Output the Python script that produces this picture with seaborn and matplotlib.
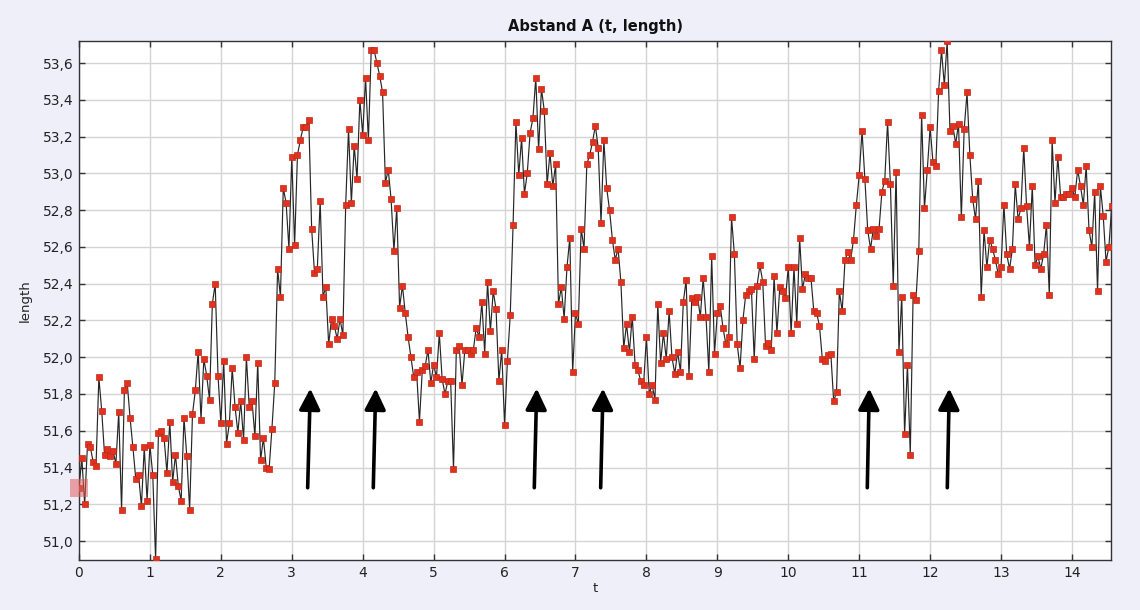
import numpy as np
import pandas as pd
import matplotlib
matplotlib.use("Agg")
import matplotlib.pyplot as plt
from matplotlib.ticker import FuncFormatter
import seaborn as sns

# ---------------- data ----------------
t_step = 0.04
length_values = [
    51.29, 51.45, 51.20, 51.53, 51.51, 51.43, 51.41, 51.89, 51.71, 51.47,
    51.50, 51.46, 51.49, 51.42, 51.70, 51.17, 51.82, 51.86, 51.67, 51.51,
    51.34, 51.36, 51.19, 51.51, 51.22, 51.52, 51.36, 50.90, 51.59,
    51.60, 51.56, 51.37, 51.65, 51.32, 51.47, 51.30, 51.22, 51.67, 51.46,
    51.17, 51.69, 51.82, 52.03, 51.66, 51.99, 51.90, 51.77, 52.29, 52.40,
    51.90, 51.64, 51.98, 51.53, 51.64, 51.94, 51.73, 51.59, 51.76, 51.55,
    52.00, 51.73,
    51.76, 51.57, 51.97, 51.44, 51.56, 51.40, 51.39, 51.61, 51.86, 52.48,
    52.33, 52.92, 52.84, 52.59, 53.09, 52.61, 53.10, 53.18, 53.25, 53.25,
    53.29, 52.70, 52.46, 52.48, 52.85, 52.33, 52.38, 52.07, 52.21, 52.17,
    52.10, 52.21,
    52.12, 52.83, 53.24, 52.84, 53.15, 52.97, 53.40, 53.21, 53.52, 53.18,
    53.67, 53.67, 53.60, 53.53, 53.44, 52.95, 53.02, 52.86, 52.58, 52.81,
    52.27, 52.39, 52.24, 52.11, 52.00, 51.89, 51.92, 51.65, 51.93, 51.95,
    52.04, 51.86,
    51.96, 51.89, 52.13, 51.88, 51.80, 51.87, 51.87, 51.39, 52.04, 52.06,
    51.85, 52.04, 52.04, 52.02, 52.04, 52.16, 52.11, 52.30, 52.02, 52.41,
    52.14, 52.36, 52.26, 51.87, 52.04, 51.63, 51.98, 52.23, 52.72, 53.28,
    52.99, 53.19,
    52.89, 53.00, 53.22, 53.30, 53.52, 53.13, 53.46, 53.34, 52.94, 53.11,
    52.93, 53.05, 52.29, 52.38, 52.21, 52.49, 52.65, 51.92, 52.24, 52.18,
    52.70, 52.59, 53.05, 53.10, 53.17, 53.26, 53.14, 52.73, 53.18, 52.92,
    52.80, 52.64,
    52.53, 52.59, 52.41, 52.05, 52.18, 52.03, 52.22, 51.96, 51.93, 51.87,
    51.85, 52.11, 51.80, 51.85, 51.77, 52.29, 51.97, 52.13, 51.99, 52.25,
    52.00, 51.91, 52.03, 51.92, 52.30, 52.42, 51.90, 52.32, 52.30, 52.33,
    52.22,
    52.43, 52.22, 51.92, 52.55, 52.02, 52.24, 52.28, 52.16, 52.07, 52.11,
    52.76, 52.56, 52.07, 51.94, 52.20, 52.34, 52.36, 52.37, 51.99, 52.39,
    52.50, 52.41, 52.06, 52.08, 52.04, 52.44, 52.13, 52.38, 52.36, 52.32,
    52.49, 52.13,
    52.49, 52.18, 52.65, 52.37, 52.45, 52.43, 52.43, 52.25, 52.24, 52.17,
    51.99, 51.98, 52.01, 52.02, 51.76, 51.81, 52.36, 52.25, 52.53, 52.57,
    52.53, 52.64, 52.83, 52.99, 53.23, 52.97, 52.69, 52.59, 52.70, 52.66,
    52.70, 52.90,
    52.96, 53.28, 52.94, 52.39, 53.01, 52.03, 52.33, 51.58, 51.96, 51.47,
    52.34, 52.31, 52.58, 53.32, 52.81, 53.02, 53.25, 53.06, 53.04, 53.45,
    53.67, 53.48, 53.72, 53.23, 53.26, 53.16, 53.27, 52.76, 53.24, 53.44,
    53.10,
    52.86, 52.75, 52.96, 52.33, 52.69, 52.49, 52.64, 52.59, 52.53, 52.45,
    52.49, 52.83, 52.56, 52.48, 52.59, 52.94, 52.75, 52.81, 53.14, 52.82,
    52.60, 52.93, 52.50, 52.55, 52.48, 52.56, 52.72, 52.34, 53.18, 52.84,
    53.09, 52.87,
    52.87, 52.89, 52.89, 52.92, 52.87, 53.02, 52.93, 52.83, 53.04, 52.69,
    52.60, 52.90, 52.36, 52.93, 52.77, 52.52, 52.60, 52.82, 52.77,
]
t_values = np.round(np.arange(len(length_values)) * t_step, 2)

x_ticks = list(range(0, 15))
y_ticks = [51.0, 51.2, 51.4, 51.6, 51.8, 52.0, 52.2, 52.4, 52.6, 52.8,
           53.0, 53.2, 53.4, 53.6]

# annotation arrows (tail t, tip t)
arrow_tail_t = [3.224, 4.149, 6.419, 7.355, 11.114, 12.242]
arrow_tip_t = [3.261, 4.183, 6.453, 7.388, 11.142, 12.270]
arrow_tail_v = 51.29
arrow_tip_v = 51.83

title_text = "Abstand A (t, length)"
x_label = "t"
y_label = "length"

# ---------------- plot ----------------
df = pd.DataFrame({"t": t_values, "length": length_values})

sns.set_theme(style="whitegrid")
plt.rcParams["font.family"] = ["DejaVu Sans"]

bg = "#EFEFFA"
fig = plt.figure(figsize=(11.4, 6.1), dpi=100, facecolor=bg)
ax = fig.add_axes([79 / 1140, 1 - 560 / 610, (1111 - 79) / 1140, (560 - 41) / 610])
ax.set_facecolor("white")

sns.lineplot(data=df, x="t", y="length", ax=ax, sort=False, estimator=None,
             color="#262626", linewidth=0.85, marker="s", markersize=3.7,
             markerfacecolor="#E0321E", markeredgecolor="#C02818",
             markeredgewidth=0.5, zorder=3)

# highlighted first point
ax.scatter(df["t"].iloc[:1], df["length"].iloc[:1], marker="s", s=170,
           color="#E06060", alpha=0.55, edgecolors="none", zorder=4,
           clip_on=False)

for ta, tb in zip(arrow_tail_t, arrow_tip_t):
    ax.annotate("", xy=(tb, arrow_tip_v), xytext=(ta, arrow_tail_v),
                arrowprops=dict(arrowstyle="-|>,head_length=0.8,head_width=0.4",
                                lw=2.6, color="black", mutation_scale=16,
                                shrinkA=0, shrinkB=0), zorder=5)

ax.set_xlim(0, 14.55)
ax.set_ylim(50.897, 53.72)
ax.set_xticks(x_ticks)
ax.set_yticks(y_ticks)
ax.yaxis.set_major_formatter(FuncFormatter(lambda v, p: f"{v:.1f}".replace(".", ",")))
ax.xaxis.set_major_formatter(FuncFormatter(lambda v, p: f"{int(round(v))}"))

ax.grid(True, color="#D4D4D4", linewidth=1.0)
ax.set_axisbelow(True)
for side, sp in ax.spines.items():
    sp.set_visible(True)
    sp.set_color("#333333")
    sp.set_linewidth(1.0)

ax.tick_params(axis="both", which="major", direction="in", length=4, width=1,
               color="#333333", labelsize=10, labelcolor="#222222",
               top=True, right=True, left=True, bottom=True, pad=4)

ax.set_title(title_text, fontsize=10.5, fontweight="bold", color="#111111", pad=7)
ax.set_xlabel(x_label, fontsize=9.5, color="#222222", labelpad=2)
ax.set_ylabel(y_label, fontsize=9.5, color="#222222", labelpad=8)

fig.savefig("out.png", dpi=100, facecolor=bg)
